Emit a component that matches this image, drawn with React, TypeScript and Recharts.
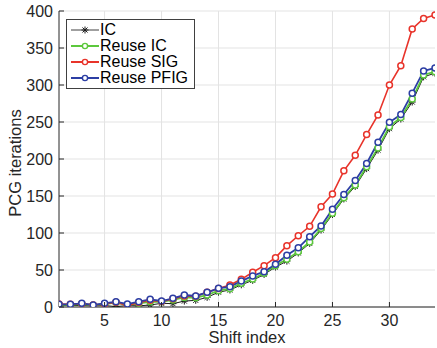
import React from 'react';
import { LineChart, Line, XAxis, YAxis, CartesianGrid, Legend } from 'recharts';

const shiftIndex = [1, 2, 3, 4, 5, 6, 7, 8, 9, 10, 11, 12, 13, 14, 15, 16, 17, 18, 19, 20, 21, 22, 23, 24, 25, 26, 27, 28, 29, 30, 31, 32, 33, 34];
const icValues = [2, 2, 2, 1.5, 2, 0.5, 2, 1.5, 2.7, 5, 4.5, 8, 9, 13, 20, 23, 30, 36, 44, 54, 62, 73, 86, 104, 125, 146, 163, 187, 212, 241, 254, 277, 311, 316];
const reuseIcValues = [3, 3, 4, 2.5, 4, 6, 2.5, 5, 7, 7, 9.5, 13, 12.5, 16.2, 22, 24.7, 32, 37.8, 45.5, 55.9, 64.4, 74.7, 87.8, 106, 126.6, 147.7, 165, 189.6, 215, 243.7, 256, 281, 313.5, 318];
const reuseSigValues = [4, 3.6, 4.5, 2.7, 4, 6.5, 2, 6, 9, 7.5, 11, 15, 14.5, 20, 25, 29.7, 37.4, 46.9, 55.9, 66.7, 82.9, 96.3, 109, 135.5, 152.7, 184, 205, 233, 259.5, 300, 326, 375.7, 390, 394.6];
const reusePfigValues = [3.6, 3.6, 5, 2.7, 5, 7.2, 4, 7.2, 10.4, 8.1, 11.7, 16.2, 14.9, 19.8, 25.3, 27.5, 35, 42, 47.7, 57.7, 69.8, 80, 95, 109.5, 132, 152, 171, 194, 222.6, 249.6, 260, 289, 319, 323];
const seriesNames = ['IC', 'Reuse IC', 'Reuse SIG', 'Reuse PFIG'];
const xTicks = [5, 10, 15, 20, 25, 30];
const yTicks = [0, 50, 100, 150, 200, 250, 300, 350, 400];
const xLabel = 'Shift index';
const yLabel = 'PCG iterations';

const data = shiftIndex.map((s, i) => ({
  shift: s,
  ic: icValues[i],
  reuseIc: reuseIcValues[i],
  reuseSig: reuseSigValues[i],
  reusePfig: reusePfigValues[i],
}));

const FONT = '"Liberation Sans", Arial, Helvetica, sans-serif';
const AXIS = '#262626';
const TICK_LEN = 5;
const GREEN = '#5cc83c';
const RED = '#e8332a';
const BLUE = '#2c3ea4';
const BLACK = '#1a1a1a';

function BottomTick(props: any) {
  const { x, y, payload } = props;
  const axisY = y - 8;
  return (
    <g>
      <line x1={x} y1={axisY} x2={x} y2={axisY - TICK_LEN} stroke={AXIS} strokeWidth={1} />
      <text x={x} y={y} dy="0.71em" textAnchor="middle" fontSize={16} fill={AXIS} fontFamily={FONT}>{payload.value}</text>
    </g>
  );
}

function LeftTick(props: any) {
  const { x, y, payload } = props;
  const axisX = x + 6;
  return (
    <g>
      <line x1={axisX} y1={y} x2={axisX + TICK_LEN} y2={y} stroke={AXIS} strokeWidth={1} />
      <text x={x} y={y} dy="0.355em" textAnchor="end" fontSize={16} fill={AXIS} fontFamily={FONT}>{payload.value}</text>
    </g>
  );
}

function TopTick(props: any) {
  const { x, y } = props;
  return <line x1={x} y1={y} x2={x} y2={y + TICK_LEN} stroke={AXIS} strokeWidth={1} />;
}

function RightTick(props: any) {
  const { x, y } = props;
  return <line x1={x} y1={y} x2={x - TICK_LEN} y2={y} stroke={AXIS} strokeWidth={1} />;
}

function Asterisk({ cx, cy, size = 3.5, color = BLACK }: any) {
  if (cx == null || cy == null) return null;
  const d = size * 0.72;
  return (
    <g stroke={color} strokeWidth={1}>
      <line x1={cx} y1={cy - size} x2={cx} y2={cy + size} />
      <line x1={cx - size} y1={cy} x2={cx + size} y2={cy} />
      <line x1={cx - d} y1={cy - d} x2={cx + d} y2={cy + d} />
      <line x1={cx - d} y1={cy + d} x2={cx + d} y2={cy - d} />
    </g>
  );
}

function circleDot(color: string) {
  return (p: any) => {
    if (p.cx == null || p.cy == null) return <g key={p.key} />;
    return <circle key={p.key} cx={p.cx} cy={p.cy} r={3} fill="#ffffff" stroke={color} strokeWidth={1.5} />;
  };
}

function asteriskDot(p: any) {
  return <g key={p.key}><Asterisk cx={p.cx} cy={p.cy} /></g>;
}

function LegendContent(props: any) {
  const payload = [...(props.payload || [])].sort(
    (a: any, b: any) => seriesNames.indexOf(a.value) - seriesNames.indexOf(b.value)
  );
  const styleByName: Record<string, { color: string; marker: string; width: number }> = {
    [seriesNames[0]]: { color: '#404040', marker: 'star', width: 1 },
    [seriesNames[1]]: { color: GREEN, marker: 'circle', width: 2 },
    [seriesNames[2]]: { color: RED, marker: 'circle', width: 2 },
    [seriesNames[3]]: { color: BLUE, marker: 'circle', width: 2 },
  };
  return (
    <div style={{ boxSizing: 'border-box', width: 129, border: '1px solid #404040', background: '#ffffff', padding: '2px 3px 2px 4px', fontFamily: FONT, fontSize: 16, color: '#000', lineHeight: '16px' }}>
      {payload.map((entry: any) => {
        const st = styleByName[entry.value] || { color: entry.color, marker: 'circle', width: 2 };
        return (
          <div key={entry.value} style={{ display: 'flex', alignItems: 'center', height: 16, whiteSpace: 'nowrap' }}>
            <svg width={28} height={16} style={{ display: 'block', marginRight: 1, flex: 'none' }}>
              <line x1={0} y1={8} x2={28} y2={8} stroke={st.color} strokeWidth={st.width} />
              {st.marker === 'star' ? (
                <Asterisk cx={14} cy={8} size={3.5} color={BLACK} />
              ) : (
                <circle cx={14} cy={8} r={2.6} fill="#ffffff" stroke={st.color} strokeWidth={1.4} />
              )}
            </svg>
            <span style={{ lineHeight: '16px', height: 16 }}>{entry.value}</span>
          </div>
        );
      })}
    </div>
  );
}

export default function App() {
  return (
    <div style={{ position: 'absolute', left: 0, top: 0, width: 437, height: 348, background: '#ffffff' }}>
      <LineChart width={437} height={348} data={data} margin={{ top: 11, right: 2, bottom: 0, left: 0 }}>
        <CartesianGrid stroke="#e3e3e3" strokeWidth={1} horizontalValues={yTicks} verticalValues={xTicks} />
        <XAxis
          dataKey="shift"
          type="number"
          domain={[1, 34]}
          ticks={xTicks}
          allowDataOverflow
          height={41}
          tickSize={0}
          tickMargin={8}
          tickLine={false}
          axisLine={{ stroke: AXIS, strokeWidth: 1 }}
          tick={BottomTick}
          label={{
            content: (p: any) => {
              const vb = p.viewBox || { x: 59, width: 376 };
              return (
                <text x={vb.x + vb.width / 2} y={343} textAnchor="middle" fontSize={16.5} fill={AXIS} fontFamily={FONT}>{xLabel}</text>
              );
            },
          }}
        />
        <XAxis
          xAxisId="top"
          orientation="top"
          dataKey="shift"
          type="number"
          domain={[1, 34]}
          ticks={xTicks}
          allowDataOverflow
          height={0}
          tickSize={0}
          tickMargin={0}
          tickLine={false}
          axisLine={{ stroke: AXIS, strokeWidth: 1 }}
          tick={TopTick}
        />
        <YAxis
          type="number"
          domain={[0, 400]}
          ticks={yTicks}
          allowDataOverflow
          width={59}
          tickSize={0}
          tickMargin={6}
          tickLine={false}
          axisLine={{ stroke: AXIS, strokeWidth: 1 }}
          tick={LeftTick}
          label={{
            content: (p: any) => {
              const vb = p.viewBox || { y: 11, height: 296 };
              const cy = vb.y + vb.height / 2 + 4;
              return (
                <text transform={`translate(20.5, ${cy}) rotate(-90)`} textAnchor="middle" fontSize={16.5} fill={AXIS} fontFamily={FONT}>{yLabel}</text>
              );
            },
          }}
        />
        <YAxis
          yAxisId="right"
          orientation="right"
          type="number"
          domain={[0, 400]}
          ticks={yTicks}
          allowDataOverflow
          width={0}
          tickSize={0}
          tickMargin={0}
          tickLine={false}
          axisLine={{ stroke: AXIS, strokeWidth: 1 }}
          tick={RightTick}
        />
        <Line type="linear" dataKey="ic" name={seriesNames[0]} stroke={BLACK} strokeWidth={1} dot={asteriskDot} activeDot={false} isAnimationActive={false} />
        <Line type="linear" dataKey="reuseIc" name={seriesNames[1]} stroke={GREEN} strokeWidth={1.8} dot={circleDot(GREEN)} activeDot={false} isAnimationActive={false} />
        <Line type="linear" dataKey="reuseSig" name={seriesNames[2]} stroke={RED} strokeWidth={1.6} dot={circleDot(RED)} activeDot={false} isAnimationActive={false} />
        <Line type="linear" dataKey="reusePfig" name={seriesNames[3]} stroke={BLUE} strokeWidth={1.8} dot={circleDot(BLUE)} activeDot={false} isAnimationActive={false} />
        <Legend
          layout="vertical"
          align="center"
          verticalAlign="middle"
          content={LegendContent}
          wrapperStyle={{ left: 66, top: 19, width: 'auto', height: 'auto' }}
        />
      </LineChart>
    </div>
  );
}
